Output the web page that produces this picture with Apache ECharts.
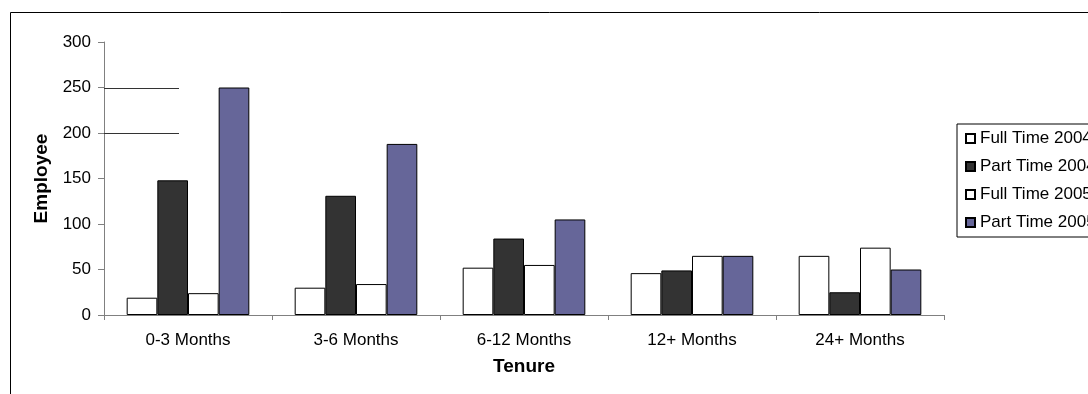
<!DOCTYPE html>
<html>
<head>
<meta charset="utf-8">
<script src="https://cdn.jsdelivr.net/npm/echarts@6/dist/echarts.min.js"></script>
<style>
html,body{margin:0;padding:0;background:#fff;}
#chart{width:1088px;height:394px;}
</style>
</head>
<body>
<div id="chart"></div>
<script>
const categories = ['0-3 Months', '3-6 Months', '6-12 Months', '12+ Months', '24+ Months'];
const seriesNames = ['Full Time 2004', 'Part Time 2004', 'Full Time 2005', 'Part Time 2005'];
const fullTime2004 = [19, 30, 52, 46, 65];
const partTime2004 = [148, 131, 84, 49, 25];
const fullTime2005 = [24, 34, 55, 65, 74];
const partTime2005 = [250, 188, 105, 65, 50];
const yTicks = {min: 0, max: 300, interval: 50};
const gridFragments = [250, 200];

const FONT = "'Liberation Sans', Arial, sans-serif";
const colors = ['#ffffff', '#333333', '#ffffff', '#666699'];
const values = [fullTime2004, partTime2004, fullTime2005, partTime2005];

const chart = echarts.init(document.getElementById('chart'), null, {renderer: 'canvas'});

const option = {
  animation: false,
  textStyle: {fontFamily: FONT},
  grid: {left: 104, right: 144, top: 42, bottom: 79, containLabel: false},
  legend: {
    orient: 'vertical',
    left: 957,
    top: 124,
    padding: [6, 8, 6, 8],
    itemWidth: 9,
    itemHeight: 9,
    itemGap: 11,
    icon: 'rect',
    borderColor: '#000',
    borderWidth: 1,
    textStyle: {fontFamily: FONT, fontSize: 17, color: '#000', lineHeight: 17},
    data: seriesNames
  },
  xAxis: {
    type: 'category',
    data: categories,
    name: 'Tenure',
    nameLocation: 'middle',
    nameGap: 42,
    nameTextStyle: {fontFamily: FONT, fontSize: 19, fontWeight: 'bold', color: '#000'},
    axisLine: {show: true, lineStyle: {color: '#808080', width: 1}},
    axisTick: {show: true, length: 5, lineStyle: {color: '#808080'}},
    axisLabel: {fontFamily: FONT, fontSize: 17, color: '#000', margin: 17},
    splitLine: {show: false}
  },
  yAxis: {
    type: 'value',
    min: yTicks.min,
    max: yTicks.max,
    interval: yTicks.interval,
    name: 'Employee',
    nameLocation: 'middle',
    nameRotate: 90,
    nameGap: 53,
    nameTextStyle: {fontFamily: FONT, fontSize: 19, fontWeight: 'bold', color: '#000'},
    axisLine: {show: true, lineStyle: {color: '#808080', width: 1}},
    axisTick: {show: true, length: 6, lineStyle: {color: '#808080'}},
    axisLabel: {fontFamily: FONT, fontSize: 17, color: '#000', margin: 13},
    splitLine: {show: false}
  },
  series: seriesNames.map((name, i) => ({
    name: name,
    type: 'bar',
    data: values[i],
    barGap: '0%',
    barCategoryGap: '27%',
    itemStyle: {color: colors[i], borderColor: '#000', borderWidth: 1}
  })),
  graphic: [{
    type: 'rect',
    silent: true,
    shape: {x: 10.5, y: 12.5, width: 1100, height: 420},
    style: {fill: 'none', stroke: '#000', lineWidth: 1},
    z: 100
  }]
};

chart.setOption(option);

// partial horizontal fragments seen on the reference at some y values
const gridRect = chart.getModel().getComponent('grid', 0).coordinateSystem.getRect();
const fragLines = gridFragments.map(v => {
  const y = Math.round(chart.convertToPixel({yAxisIndex: 0}, v)) + 0.5;
  return {
    type: 'line',
    silent: true,
    shape: {x1: gridRect.x, y1: y, x2: gridRect.x + gridRect.width * 0.0893, y2: y},
    style: {stroke: '#333', lineWidth: 1},
    z: 50
  };
});
chart.setOption({graphic: option.graphic.concat(fragLines)});
</script>
</body>
</html>
